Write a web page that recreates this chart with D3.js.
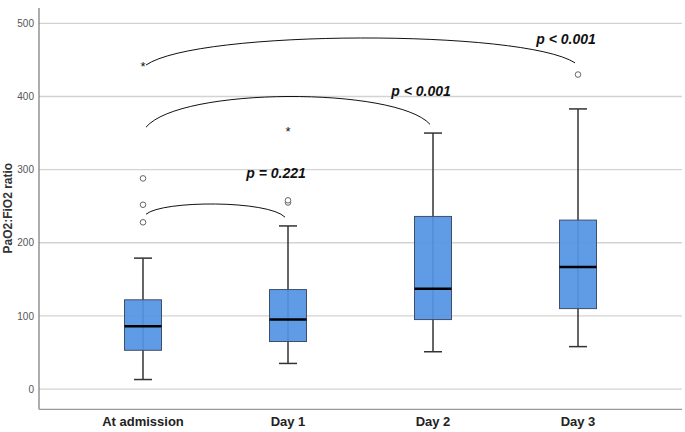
<!DOCTYPE html>
<html>
<head>
<meta charset="utf-8">
<script src="https://cdn.jsdelivr.net/npm/d3@7"></script>
<style>
  body { margin: 0; background: #fff; }
  text { font-family: "Liberation Sans", Arial, sans-serif; }
</style>
</head>
<body>
<div class="box-chart"></div>
<script>
// PaO2:FiO2 ratio per time point (box plot summary)
const categories = ['At admission', 'Day 1', 'Day 2', 'Day 3'];
const whiskerLow = [13, 35, 51, 58];
const q1 = [53, 65, 95, 110];
const median = [86, 95, 137, 167];
const q3 = [122, 136, 236, 231];
const whiskerHigh = [179, 223, 350, 383];
const outliers = [[228, 252, 288], [255, 258], [], [430]];
const extremes = [[445], [355], [], []];
const yTicks = [0, 100, 200, 300, 400, 500];

// comparison brackets
const bracketFrom = ['At admission', 'At admission', 'At admission'];
const bracketTo = ['Day 1', 'Day 2', 'Day 3'];
const bracketStart = [239, 358, 443];
const bracketEnd = [235, 362, 446];
const bracketPeak = [253, 400, 480];
const pLabels = ['p = 0.221', 'p < 0.001', 'p < 0.001'];
const pLabelValue = [296, 408, 478];

const width = 685, height = 432;
const plotLeft = 39, plotRight = 682;

const svg = d3.select('.box-chart')
  .append('svg')
  .attr('width', width)
  .attr('height', height);

const x = d3.scaleBand().domain(categories).range([70.5, 650.5]);
const y = d3.scaleLinear().domain([-27.7, 521]).range([409.3, 8]);
const cx = c => x(c) + x.bandwidth() / 2;
const boxW = 37, capW = 18;

// grid lines
svg.append('g')
  .selectAll('line')
  .data(yTicks)
  .enter()
  .append('line')
  .attr('x1', plotLeft).attr('x2', plotRight)
  .attr('y1', d => y(d)).attr('y2', d => y(d))
  .attr('stroke', '#d3d3d3')
  .attr('stroke-width', 1.3);

// y axis
const yAxis = svg.append('g')
  .attr('transform', `translate(${plotLeft},0)`)
  .call(d3.axisLeft(y).tickValues(yTicks).tickSize(0).tickPadding(5));
yAxis.select('.domain').remove();
yAxis.selectAll('text')
  .attr('fill', '#555')
  .style('font-size', '10px');

// axis frame lines
svg.append('line')
  .attr('x1', plotLeft).attr('x2', plotLeft)
  .attr('y1', y.range()[1]).attr('y2', y.range()[0])
  .attr('stroke', '#777').attr('stroke-width', 1.2);
svg.append('line')
  .attr('x1', plotLeft).attr('x2', plotRight)
  .attr('y1', y.range()[0]).attr('y2', y.range()[0])
  .attr('stroke', '#999').attr('stroke-width', 1.2);

// x axis labels
const xAxis = svg.append('g')
  .attr('transform', `translate(0,${y.range()[0]})`)
  .call(d3.axisBottom(x).tickSize(0).tickPadding(7));
xAxis.select('.domain').remove();
xAxis.selectAll('text')
  .attr('fill', '#222')
  .style('font-size', '13px')
  .style('font-weight', 'bold');

// y title
svg.append('text')
  .text('PaO2:FiO2 ratio')
  .attr('transform', `translate(12,${(y(0) + y(500)) / 2 + 2}) rotate(-90)`)
  .attr('text-anchor', 'middle')
  .attr('fill', '#333')
  .style('font-size', '12px')
  .style('font-weight', 'bold');

// boxes
const boxes = svg.append('g')
  .selectAll('g')
  .data(categories)
  .enter()
  .append('g');

boxes.append('line')
  .attr('x1', d => cx(d)).attr('x2', d => cx(d))
  .attr('y1', (d, i) => y(whiskerLow[i])).attr('y2', (d, i) => y(whiskerHigh[i]))
  .attr('stroke', '#333').attr('stroke-width', 1.5);
boxes.selectAll('.cap')
  .data((d, i) => [[d, whiskerLow[i]], [d, whiskerHigh[i]]])
  .enter()
  .append('line')
  .attr('class', 'cap')
  .attr('x1', d => cx(d[0]) - capW / 2).attr('x2', d => cx(d[0]) + capW / 2)
  .attr('y1', d => y(d[1])).attr('y2', d => y(d[1]))
  .attr('stroke', '#333').attr('stroke-width', 1.5);
boxes.append('rect')
  .attr('x', d => cx(d) - boxW / 2)
  .attr('width', boxW)
  .attr('y', (d, i) => y(q3[i]))
  .attr('height', (d, i) => y(q1[i]) - y(q3[i]))
  .attr('fill', '#5494e4')
  .attr('fill-opacity', 0.93)
  .attr('stroke', '#3d4f6a')
  .attr('stroke-width', 1);
boxes.append('line')
  .attr('x1', d => cx(d) - boxW / 2).attr('x2', d => cx(d) + boxW / 2)
  .attr('y1', (d, i) => y(median[i])).attr('y2', (d, i) => y(median[i]))
  .attr('stroke', '#000').attr('stroke-width', 2.5);

// outliers
boxes.selectAll('circle')
  .data((d, i) => outliers[i].map(v => [d, v]))
  .enter()
  .append('circle')
  .attr('cx', d => cx(d[0]))
  .attr('cy', d => y(d[1]))
  .attr('r', 2.8)
  .attr('fill', '#fff')
  .attr('stroke', '#666')
  .attr('stroke-width', 1);

// extreme values
boxes.selectAll('.star')
  .data((d, i) => extremes[i].map(v => [d, v]))
  .enter()
  .append('text')
  .attr('class', 'star')
  .text('*')
  .attr('x', d => cx(d[0]))
  .attr('y', d => y(d[1]) + 7)
  .attr('text-anchor', 'middle')
  .attr('fill', '#111')
  .style('font-size', '13px');

// brackets
const brackets = svg.append('g')
  .selectAll('g')
  .data(pLabels)
  .enter()
  .append('g');

brackets.append('path')
  .attr('fill', 'none')
  .attr('stroke', '#111')
  .attr('stroke-width', 1)
  .attr('d', (d, i) => {
    const x1 = cx(bracketFrom[i]) + 3, x2 = cx(bracketTo[i]) - 3;
    const y1 = y(bracketStart[i]), y2 = y(bracketEnd[i]);
    const yc = (y(bracketPeak[i]) - 0.125 * (y1 + y2)) / 0.75;
    const w = x2 - x1;
    const p = d3.path();
    p.moveTo(x1, y1);
    p.bezierCurveTo(x1 + 0.12 * w, yc, x2 - 0.12 * w, yc, x2, y2);
    return p.toString();
  });

brackets.append('text')
  .text(d => d)
  .attr('x', (d, i) => cx(bracketTo[i]) - 12)
  .attr('y', (d, i) => y(pLabelValue[i]) + 5)
  .attr('text-anchor', 'middle')
  .attr('fill', '#111')
  .style('font-size', '14px')
  .style('font-weight', 'bold')
  .style('font-style', 'italic');
</script>
</body>
</html>
